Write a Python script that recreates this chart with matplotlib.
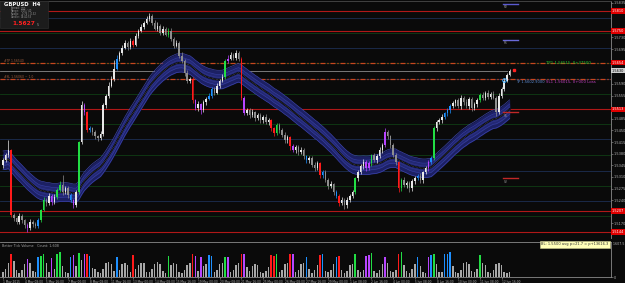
import numpy as np
import pandas as pd
import matplotlib
matplotlib.use("Agg")
import matplotlib.pyplot as plt
from matplotlib.patches import Rectangle

# GBPUSD H4, 1 May 2015 onwards
closes = [
    1.5360, 1.5375, 1.5390, 1.5195, 1.5186, 1.5174, 1.5192, 1.5180, 1.5165, 1.5156,
    1.5174, 1.5168, 1.5162, 1.5180, 1.5210, 1.5240, 1.5231, 1.5252, 1.5234, 1.5249,
    1.5270, 1.5285, 1.5264, 1.5276, 1.5255, 1.5240, 1.5225, 1.5264, 1.5414, 1.5525,
    1.5504, 1.5450, 1.5456, 1.5444, 1.5432, 1.5426, 1.5438, 1.5525, 1.5555, 1.5585,
    1.5606, 1.5636, 1.5666, 1.5684, 1.5699, 1.5714, 1.5702, 1.5720, 1.5708, 1.5735,
    1.5750, 1.5762, 1.5774, 1.5786, 1.5795, 1.5774, 1.5756, 1.5765, 1.5744, 1.5756,
    1.5738, 1.5750, 1.5726, 1.5705, 1.5714, 1.5675, 1.5660, 1.5624, 1.5600, 1.5606,
    1.5540, 1.5516, 1.5528, 1.5510, 1.5534, 1.5546, 1.5555, 1.5576, 1.5564, 1.5585,
    1.5600, 1.5612, 1.5660, 1.5666, 1.5678, 1.5669, 1.5684, 1.5666, 1.5549, 1.5501,
    1.5510, 1.5495, 1.5504, 1.5486, 1.5495, 1.5480, 1.5489, 1.5474, 1.5480, 1.5456,
    1.5441, 1.5465, 1.5450, 1.5435, 1.5420, 1.5429, 1.5402, 1.5390, 1.5399, 1.5384,
    1.5390, 1.5372, 1.5360, 1.5366, 1.5345, 1.5336, 1.5351, 1.5315, 1.5324, 1.5300,
    1.5282, 1.5288, 1.5264, 1.5252, 1.5231, 1.5240, 1.5225, 1.5240, 1.5252, 1.5264,
    1.5306, 1.5324, 1.5342, 1.5354, 1.5336, 1.5351, 1.5375, 1.5360, 1.5372, 1.5390,
    1.5405, 1.5444, 1.5432, 1.5405, 1.5375, 1.5354, 1.5276, 1.5300, 1.5285, 1.5291,
    1.5276, 1.5297, 1.5306, 1.5312, 1.5300, 1.5324, 1.5336, 1.5354, 1.5366, 1.5456,
    1.5474, 1.5480, 1.5489, 1.5501, 1.5510, 1.5522, 1.5531, 1.5540, 1.5522, 1.5549,
    1.5534, 1.5522, 1.5543, 1.5516, 1.5528, 1.5540, 1.5558, 1.5549, 1.5564, 1.5552,
    1.5561, 1.5549, 1.5504, 1.5555, 1.5576, 1.5600, 1.5618, 1.5630,
]
first_open = 1.5345

# wick sizes in pips above / below the body
hi_ext = [
    6, 8, 30, 5, 6, 4, 9, 5, 4, 6,   8, 5, 6, 7, 4, 9, 6, 8, 5, 10,
    6, 12, 30, 8, 6, 5, 4, 7, 5, 12,  6, 4, 8, 5, 6, 4, 9, 8, 6, 10,
    7, 25, 10, 6, 8, 9, 6, 8, 5, 7,  6, 8, 5, 7, 9, 6, 8, 10, 5, 7,
    6, 8, 7, 5, 9, 6, 12, 5, 8, 6,   5, 6, 9, 5, 7, 6, 8, 5, 6, 7,
    6, 8, 5, 10, 7, 6, 8, 6, 5, 4,   8, 6, 9, 5, 8, 6, 7, 9, 6, 5,
    4, 8, 6, 7, 9, 6, 5, 8, 6, 7,    9, 6, 5, 8, 6, 9, 7, 5, 6, 8,
    6, 9, 5, 7, 6, 10, 6, 8, 7, 6,   5, 8, 6, 9, 7, 6, 5, 8, 6, 9,
    7, 12, 6, 5, 8, 6, 4, 6, 9, 7,   6, 8, 7, 6, 9, 5, 8, 6, 7, 6,
    8, 6, 9, 5, 7, 6, 8, 6, 9, 7,    6, 9, 7, 8, 6, 9, 5, 8, 6, 7,
    6, 8, 5, 7, 6, 8, 6, 5,
]
lo_ext = [
    8, 6, 5, 6, 9, 7, 5, 8, 10, 12,  6, 9, 7, 5, 6, 4, 8, 6, 9, 5,
    7, 5, 8, 6, 9, 7, 8, 5, 6, 4,    8, 6, 5, 9, 7, 8, 6, 5, 7, 6,
    5, 6, 4, 8, 6, 5, 9, 6, 8, 5,    7, 5, 6, 4, 6, 8, 5, 7, 6, 8,
    5, 7, 6, 8, 5, 7, 6, 9, 8, 6,    8, 6, 7, 10, 6, 8, 5, 7, 6, 5,
    7, 5, 6, 8, 5, 7, 6, 8, 9, 6,    6, 8, 5, 9, 6, 7, 8, 6, 9, 7,
    8, 6, 9, 5, 7, 8, 10, 6, 7, 8,   6, 8, 7, 9, 6, 8, 5, 7, 9, 6,
    8, 6, 9, 7, 10, 6, 12, 8, 6, 7,  6, 8, 5, 9, 7, 6, 8, 5, 7, 6,
    8, 6, 7, 9, 6, 8, 10, 7, 6, 9,   12, 7, 8, 6, 9, 7, 6, 8, 5, 6,
    7, 5, 8, 6, 9, 7, 5, 8, 6, 7,    8, 6, 9, 7, 6, 8, 5, 7, 8, 6,
    7, 6, 10, 5, 7, 6, 5, 4,
]

# tick volume, one row per trading day (00:00 ... 20:00)
volumes = [
    320, 480, 880, 1450, 1000, 420,
    250, 430, 820, 1150, 900, 380,
    300, 1250, 1350, 1500, 880, 350,
    1200, 500, 1450, 1600, 700, 330,
    280, 1300, 1400, 700, 1550, 1100,
    1500, 1450, 1350, 600, 520, 300,
    260, 480, 900, 950, 850, 380,
    1300, 450, 820, 900, 780, 330,
    1400, 500, 760, 880, 920, 350,
    300, 480, 850, 980, 800, 360,
    280, 1350, 780, 900, 820, 320,
    250, 420, 760, 900, 1450, 1350,
    380, 1300, 700, 820, 1400, 1350,
    300, 450, 820, 900, 1300, 1250,
    300, 420, 780, 900, 1500, 1450,
    620, 400, 700, 820, 760, 300,
    240, 380, 650, 1400, 1350, 1500,
    300, 420, 800, 880, 1450, 1500,
    320, 440, 800, 880, 1300, 500,
    280, 420, 780, 1400, 1450, 380,
    300, 450, 860, 1300, 1350, 420,
    260, 400, 760, 850, 1500, 450,
    300, 420, 1350, 1400, 1550, 400,
    280, 450, 800, 1300, 900, 380,
    300, 420, 1450, 1600, 780, 360,
    270, 480, 820, 1250, 700, 300,
    240, 1300, 1400, 1450, 800, 350,
    300, 1450, 1500, 1600, 720, 340,
    280, 420, 900, 950, 820, 360,
    300, 480, 1400, 880, 760, 330,
    280, 420, 800, 900, 760, 300,
    260, 350,
]

# bars flagged by the volume indicator
red_bars = [3, 31, 48, 70, 88, 99, 100, 106, 117, 124, 146]
blue_bars = [13, 25, 32, 42, 76, 77, 112, 118, 123, 153, 158, 163, 164, 165]
green_bars = [14, 15, 20, 21, 28, 61, 82, 101, 130, 136, 147, 159, 176]
purple_bars = [9, 18, 26, 30, 71, 73, 83, 89, 107, 134, 135, 141, 157]

date_labels = ["1 May 2015", "4 May 08:00", "5 May 16:00", "7 May 00:00", "8 May 08:00",
               "11 May 16:00", "13 May 00:00", "14 May 08:00", "15 May 16:00", "19 May 00:00",
               "20 May 08:00", "21 May 16:00", "25 May 00:00", "26 May 08:00", "27 May 16:00",
               "29 May 00:00", "1 Jun 08:00", "2 Jun 16:00", "4 Jun 00:00", "5 Jun 08:00",
               "8 Jun 16:00", "10 Jun 00:00", "11 Jun 08:00", "12 Jun 16:00"]

red_levels = [1.5810, 1.5750, 1.5513, 1.5207, 1.5144]
blue_levels = [1.5789, 1.5699, 1.5606, 1.5423, 1.5327, 1.5237]
green_levels = [1.5744, 1.5654, 1.5561, 1.5468, 1.5375, 1.5282, 1.5192]
dash_levels = [1.5654, 1.5606]
last_price = 1.5630

BG = "#0a0a0a"
TXT = "#b4b4b4"
kind_col = {"r": "#ff1a1a", "b": "#1e90ff", "g": "#22dd44", "p": "#b845ff"}

n = len(closes)
x = np.arange(n)
closes_a = np.array(closes)
opens = np.array([first_open] + closes[:-1])
kinds = [""] * n
for lst, k in [(red_bars, "r"), (blue_bars, "b"), (green_bars, "g"), (purple_bars, "p")]:
    for i in lst:
        kinds[i] = k

cols = []
for i in range(n):
    if kinds[i]:
        cols.append(kind_col[kinds[i]])
    elif closes_a[i] >= opens[i]:
        cols.append("#e8e8e8")
    else:
        cols.append("#8e8e8e")

top = np.maximum(opens, closes_a)
bot = np.minimum(opens, closes_a)
highs = top + np.array(hi_ext) * 0.0001
lows = bot - np.array(lo_ext) * 0.0001

fig = plt.figure(figsize=(6.25, 2.83), dpi=100, facecolor=BG)
ax = fig.add_axes([0, 0.159, 0.9776, 0.838])
axv = fig.add_axes([0, 0.0212, 0.9776, 0.1237])
xmin, xmax = -1.1, 224.4

# ---- main price panel
ax.set_facecolor(BG)
for p in blue_levels:
    ax.axhline(p, color="#1d2f52", lw=0.6, zorder=1)
for p in green_levels:
    ax.axhline(p, color="#0f3d14", lw=0.6, zorder=1)
for p in red_levels:
    ax.axhline(p, color="#b01818", lw=0.8, zorder=1.5)
for p in dash_levels:
    ax.axhline(p, color="#c8461e", lw=0.9, ls=(0, (4, 1.5, 1, 1.5)), zorder=2)
ax.plot([xmin, n - 2], [last_price, last_price], color="#8a8a8a", lw=0.6, zorder=2)

# moving average envelope
ema = pd.Series(closes).ewm(span=34, adjust=False).mean().values
half = 0.0028
ax.fill_between(x, ema - half, ema + half, color="#1c2064", lw=0, zorder=3)
ax.fill_between(x, ema - half * 0.55, ema + half * 0.55, color="#232874", lw=0, zorder=3)
for k, c in [(1.0, "#3e46b0"), (0.55, "#363ea0"), (0.25, "#30368e")]:
    ax.plot(x, ema + half * k, color=c, lw=0.45, zorder=4)
    ax.plot(x, ema - half * k, color=c, lw=0.45, zorder=4)
ax.plot(x, ema, color="#050505", lw=1.2, zorder=4)
ax.plot(x, ema, color="#8a8a8a", lw=0.4, ls=(0, (1, 1.5)), zorder=5)

# candles
ax.vlines(x, lows, highs, colors=cols, lw=0.5, zorder=6)
ax.bar(x, np.maximum(top - bot, 0.00012), bottom=bot, width=0.55, color=cols, lw=0, zorder=7)

# markers at the last bar
ax.plot(n - 3, 1.5602, marker="o", ms=2.6, mfc="none", mec="#33aaff", mew=0.7, zorder=8)
ax.plot(n + 0.5, last_price + 0.0003, marker="s", ms=1.5, color="#ff2020", zorder=8)

# pivot stubs
for p, c, t in [(1.5831, "#5a5ad0", "R2"), (1.5723, "#6a6ad8", "R1"),
                (1.5504, "#c02828", "S1"), (1.5306, "#c02828", "S2")]:
    ax.plot([184.5, 190], [p, p], color=c, lw=1.0, zorder=8)
    ax.text(185, p - 0.0004, t, fontsize=2.2, color="#a0a0a0", va="top", ha="left", zorder=8)

ax.text(200.5, 1.5652, "TP1 1.56515, 0+37500", fontsize=2.8, color="#22cc33", va="center", zorder=9)
ax.text(189.5, 1.5597, "TP 1.5602.9000", fontsize=2.6, color="#5f8fd8", va="center", zorder=9)
ax.text(200.5, 1.5597, "SL1 1.56015, 0+000 Loss", fontsize=2.8, color="#c040c0", va="center", zorder=9)
ax.text(0.5, 1.5659, "#TP 1.56540", fontsize=2.2, color="#a06040", va="center", zorder=9)
ax.text(0.5, 1.5611, "#SL 1.56060 ~ 1.0", fontsize=2.2, color="#a06040", va="center", zorder=9)

ax.set_xlim(xmin, xmax)
ax.set_ylim(1.5126, 1.5840)
ax.yaxis.tick_right()
boxed = red_levels + [dash_levels[0], last_price]
yt = [v for v in np.arange(1.5135, 1.5840, 0.0035) if min(abs(v - b) for b in boxed) > 0.0016]
ax.set_yticks(yt)
ax.set_yticklabels([f"{v:.4f}" for v in yt])
ax.tick_params(axis="y", colors="#808080", labelcolor=TXT, labelsize=2.5, length=1.2, width=0.5, pad=0.6)
ax.set_xticks([])
for s in ["left", "bottom"]:
    ax.spines[s].set_visible(False)
ax.spines["right"].set_color("#8a8a8a")
ax.spines["right"].set_linewidth(0.6)
ax.spines["top"].set_color("#4a4a4a")
ax.spines["top"].set_linewidth(0.6)

tr = ax.get_yaxis_transform()
for p in red_levels + [dash_levels[0]]:
    ax.text(1.0015, p, f"{p:.4f}", transform=tr, fontsize=2.5, color="white", va="center", ha="left",
            bbox=dict(boxstyle="square,pad=0.25", fc="#e00000", ec="none"), clip_on=False, zorder=10)
ax.text(1.0015, last_price, f"{last_price:.4f}", transform=tr, fontsize=2.5, color="black", va="center",
        ha="left", bbox=dict(boxstyle="square,pad=0.25", fc="#d0d0d0", ec="none"), clip_on=False, zorder=10)

# ---- info box
fig.patches.append(Rectangle((0, 1 - 28 / 283), 48 / 625, 27 / 283, transform=fig.transFigure,
                             fc="#1c1c1c", ec="#303030", lw=0.4, zorder=20))
fig.text(4 / 625, 1 - 4 / 283, "GBPUSD  H4", fontsize=3.8, color="white", weight="bold", va="center", zorder=21)
info = [("Spread:", "0.00"), ("Range:", "105 / 40"), ("Swaps:", "-0.76 / -0.32"), ("Candle:", "03:40:53")]
for j, (a, b) in enumerate(info):
    yy = 1 - (8.5 + 2.7 * j) / 283
    fig.text(11 / 625, yy, a, fontsize=1.8, color="#9a9a9a", va="center", zorder=21)
    fig.text(21 / 625, yy, b, fontsize=1.8, color="#9a9a9a", va="center", zorder=21)
fig.text(12 / 625, 1 - 23.5 / 283, "1.5627", fontsize=4.2, color="#ff2020", weight="bold", va="center", zorder=21)
fig.text(37 / 625, 1 - 24.5 / 283, "5", fontsize=2.4, color="#9a9a9a", va="center", zorder=21)

# ---- volume panel
axv.set_facecolor(BG)
vcols = [kind_col[k] if k else "#a8a8a8" for k in kinds]
axv.bar(x, volumes, width=0.55, color=vcols, lw=0)
axv.set_xlim(xmin, xmax)
axv.set_ylim(0, 2240)
axv.yaxis.tick_right()
axv.set_yticks([0])
axv.set_yticklabels(["0"])
axv.tick_params(axis="y", colors="#808080", labelcolor=TXT, labelsize=2.5, length=1.2, width=0.5, pad=0.6)
lab_pos = np.arange(0, 8 * len(date_labels), 8)
axv.set_xticks(lab_pos)
axv.set_xticklabels(date_labels, ha="left")
axv.tick_params(axis="x", colors="#808080", labelcolor=TXT, labelsize=2.1, length=1.2, width=0.5, pad=0.8)
axv.spines["left"].set_visible(False)
for s in ["top", "right", "bottom"]:
    axv.spines[s].set_color("#8a8a8a")
    axv.spines[s].set_linewidth(0.6)
axv.text(0.004, 0.95, "Better Tick Volume   Count: 1,608", transform=axv.transAxes, fontsize=2.4,
         color="#a0a0a0", va="top", ha="left")
axv.text(1.003, 0.93, "1,607.5", transform=axv.transAxes, fontsize=2.3, color=TXT, va="center",
         ha="left", clip_on=False)
axv.text(0.996, 0.93, "BL: 1.5500 avg p=21.7 = p+13616.3", transform=axv.transAxes, fontsize=2.6,
         color="#303030", va="center", ha="right",
         bbox=dict(boxstyle="square,pad=0.35", fc="#ffffb8", ec="#c8c890", lw=0.4))

fig.savefig("out.png", dpi=100, facecolor=BG)
